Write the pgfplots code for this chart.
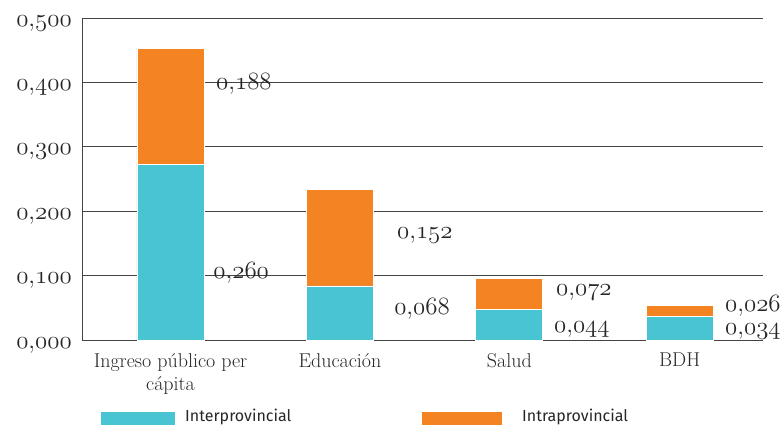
\documentclass[border=0pt]{standalone}
\usepackage{pgfplots}
\pgfplotsset{compat=1.18}
\usepackage{fontspec}
\newfontfamily\legfont{Fira Sans}

\definecolor{inter}{HTML}{48C4D3}
\definecolor{intra}{HTML}{F48421}
\definecolor{txt}{HTML}{262626}
\definecolor{gridc}{HTML}{444444}

\tikzset{dl/.style={font=\fontsize{24.88}{28}\selectfont, text=txt, inner sep=0pt, anchor=base west}}

\begin{document}
\begin{tikzpicture}[x=1pt,y=1pt]
\path[use as bounding box] (0,0) rectangle (783,424);
\begin{axis}[
    at={(82pt,84pt)}, anchor=south west,
    scale only axis, width=681pt, height=322pt,
    xmin=0, xmax=4, ymin=0, ymax=0.5,
    clip=false,
    axis lines=left, axis line style={-, draw=gridc, line width=0.9pt},
    ybar stacked, bar width=0.394,
    ytick={0,0.1,0.2,0.3,0.4,0.5},
    yticklabels={$\mathnormal{0{,}000}$,$\mathnormal{0{,}100}$,$\mathnormal{0{,}200}$,$\mathnormal{0{,}300}$,$\mathnormal{0{,}400}$,$\mathnormal{0{,}500}$},
    yticklabel style={font=\fontsize{24.88}{28}\selectfont, text=txt, inner sep=0pt, anchor=base east, xshift=-10pt, yshift=-8pt},
    ytick style={draw=none},
    ymajorgrids, grid style={draw=gridc, line width=0.8pt},
    xtick={0.52,1.515,2.51,3.51},
    xticklabels={{Ingreso público per\\cápita},{Educación},{Salud},{BDH}},
    xticklabel style={font=\fontsize{20}{23}\selectfont, text=txt, align=center, inner sep=0pt, anchor=north, yshift=-13pt},
    xtick style={draw=none},
    tick align=inside,
    extra x ticks={0,1,2,3,4},
    extra x tick labels={\empty,\empty,\empty,\empty,\empty},
    extra x tick style={grid=none, tick align=center, major tick length=6pt, tick style={draw=gridc, line width=0.8pt}},
]
% Interprovincial (heights as drawn)
\addplot[fill=inter, draw=white, line width=0.8pt] coordinates {(0.52,0.272) (1.515,0.084) (2.51,0.047) (3.51,0.036)};
% Intraprovincial
\addplot[fill=intra, draw=white, line width=0.8pt] coordinates {(0.52,0.181) (1.515,0.150) (2.51,0.048) (3.51,0.018)};

\node[dl] at (axis cs:0.787,0.389) {$\mathnormal{0{,}188}$};
\node[dl] at (axis cs:0.771,0.096) {$\mathnormal{0{,}260}$};
\node[dl] at (axis cs:1.85,0.157) {$\mathnormal{0{,}152}$};
\node[dl] at (axis cs:1.833,0.040) {$\mathnormal{0{,}068}$};
\node[dl] at (axis cs:2.784,0.069) {$\mathnormal{0{,}072}$};
\node[dl] at (axis cs:2.772,0.011) {$\mathnormal{0{,}044}$};
\node[dl] at (axis cs:3.777,0.044) {$\mathnormal{0{,}026}$};
\node[dl] at (axis cs:3.777,0.009) {$\mathnormal{0{,}034}$};
\end{axis}

% legend (cut by the lower edge, as in the reference)
\fill[inter] (101,-10) rectangle (175,12);
\node[anchor=base west, inner sep=0pt, font=\legfont\fontsize{16}{19}\selectfont, text=txt] at (185,3) {Interprovincial};
\fill[intra] (422,-10) rectangle (502,12);
\node[anchor=base west, inner sep=0pt, font=\legfont\fontsize{16}{19}\selectfont, text=txt] at (522,3) {Intraprovincial};
\end{tikzpicture}
\end{document}
